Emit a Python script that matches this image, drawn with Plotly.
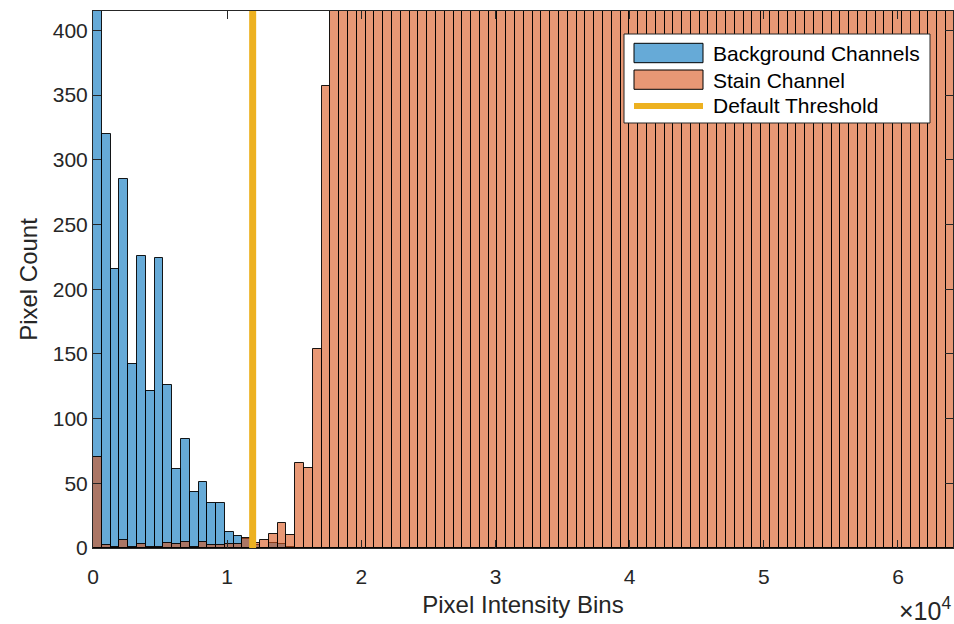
import numpy as np
import plotly.graph_objects as go

# ---------------- data ----------------
N_BINS = 100
BIN_WIDTH = 65536 / N_BINS
bin_left = [i * BIN_WIDTH for i in range(N_BINS)]

background_counts = [
    1450, 320, 216, 285, 142, 226, 121, 224, 126, 61,
    84, 43, 51, 35, 35, 12, 9, 7, 2, 0,
    4, 3, 1, 0, 0, 0, 0, 0, 0, 0,
] + [0] * 70

stain_counts = [
    70, 2, 1, 6, 1, 3, 1, 1, 4, 3,
    5, 1, 5, 2, 2, 3, 3, 8, 4, 6,
    11, 19, 10, 66, 62, 154, 357, 640, 980, 1320,
    1650, 1900, 2150, 2300, 2480, 2600, 2700, 2760, 2820, 2850,
    2880, 2900, 2910, 2930, 2940, 2950, 2960, 2950, 2940, 2930,
    2920, 2900, 2880, 2860, 2840, 2820, 2800, 2780, 2760, 2740,
    2720, 2700, 2680, 2660, 2640, 2620, 2600, 2580, 2560, 2540,
    2520, 2500, 2480, 2460, 2440, 2420, 2400, 2380, 2360, 2340,
    2320, 2300, 2280, 2260, 2240, 2220, 2200, 2180, 2160, 2140,
    2120, 2100, 2080, 2060, 2040, 2020, 2000, 1980, 1960, 1940,
]

threshold = 11900
x_tick_vals = [0, 10000, 20000, 30000, 40000, 50000, 60000]
x_tick_text = ["0", "1", "2", "3", "4", "5", "6"]
y_tick_vals = [0, 50, 100, 150, 200, 250, 300, 350, 400]
legend_labels = ["Background Channels", "Stain Channel", "Default Threshold"]

X_MAX = 64100
Y_MAX = 415

BLUE = "rgba(0,114,189,0.6)"
ORANGE = "rgba(217,83,25,0.6)"
YELLOW = "#EDB120"
AXC = "#262626"
FONT = "Liberation Sans, Arial, Helvetica, sans-serif"

# ---------------- figure ----------------
fig = go.Figure()
fig.add_trace(go.Bar(
    x=bin_left, y=background_counts, width=BIN_WIDTH, offset=0,
    marker=dict(color=BLUE, line=dict(color="rgba(0,0,0,0.9)", width=1)),
    name=legend_labels[0], showlegend=False,
))
fig.add_trace(go.Bar(
    x=bin_left, y=stain_counts, width=BIN_WIDTH, offset=0,
    marker=dict(color=ORANGE, line=dict(color="rgba(0,0,0,0.9)", width=1)),
    name=legend_labels[1], showlegend=False,
))
fig.add_trace(go.Scatter(
    x=[threshold, threshold], y=[0, Y_MAX], mode="lines",
    line=dict(color=YELLOW, width=7),
    name=legend_labels[2], showlegend=False,
))

L, R, T, B = 93, 1, 11, 76
W, H = 954, 624
pw, ph = W - L - R, H - T - B


def px(xp):
    return (xp - L) / pw


def py(yp):
    return (H - B - yp) / ph


shapes = []
annotations = []
# legend box
shapes.append(dict(type="rect", xref="paper", yref="paper",
                   x0=px(624), x1=px(930), y0=py(123), y1=py(34),
                   fillcolor="white", line=dict(color=AXC, width=1)))
# legend symbols
shapes.append(dict(type="rect", xref="paper", yref="paper",
                   x0=px(634), x1=px(703), y0=py(62.7), y1=py(43.3),
                   fillcolor=BLUE, line=dict(color="black", width=1)))
shapes.append(dict(type="rect", xref="paper", yref="paper",
                   x0=px(634), x1=px(703), y0=py(89.3), y1=py(70),
                   fillcolor=ORANGE, line=dict(color="black", width=1)))
shapes.append(dict(type="line", xref="paper", yref="paper",
                   x0=px(634), x1=px(703), y0=py(106), y1=py(106),
                   line=dict(color=YELLOW, width=6)))
for lab, yy in zip(legend_labels, [53, 80, 106]):
    annotations.append(dict(text=lab, xref="paper", yref="paper",
                            x=px(711), y=py(yy), xanchor="left", yanchor="middle",
                            showarrow=False, font=dict(family=FONT, size=21, color="black")))
# exponent label
annotations.append(dict(text="×10<sup>4</sup>", xref="paper", yref="paper",
                        x=px(953), y=py(609), xanchor="right", yanchor="middle",
                        showarrow=False, font=dict(family=FONT, size=25, color=AXC)))

fig.update_layout(
    width=W, height=H,
    margin=dict(l=L, r=R, t=T, b=B, pad=0),
    paper_bgcolor="white", plot_bgcolor="white",
    barmode="overlay", bargap=0,
    font=dict(family=FONT, color=AXC, size=21),
    shapes=shapes, annotations=annotations,
    xaxis=dict(
        range=[0, X_MAX], tickvals=x_tick_vals, ticktext=x_tick_text,
        showgrid=False, zeroline=False, showline=True, linecolor=AXC, linewidth=1,
        mirror="ticks", ticks="inside", ticklen=8, tickcolor=AXC, tickwidth=1,
        ticklabelstandoff=10,
        tickfont=dict(size=21, family=FONT, color=AXC),
        title=dict(text="Pixel Intensity Bins", font=dict(size=24, family=FONT, color=AXC), standoff=8),
    ),
    yaxis=dict(
        range=[0, Y_MAX], tickvals=y_tick_vals,
        showgrid=False, zeroline=False, showline=True, linecolor=AXC, linewidth=1,
        mirror="ticks", ticks="inside", ticklen=8, tickcolor=AXC, tickwidth=1,
        tickfont=dict(size=21, family=FONT, color=AXC),
        title=dict(text="Pixel Count", font=dict(size=24, family=FONT, color=AXC), standoff=8),
    ),
)

fig.write_html("out.html")
